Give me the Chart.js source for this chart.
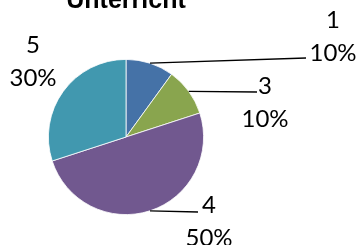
<!DOCTYPE html>
<html>
<head>
<meta charset="utf-8">
<script src="https://cdn.jsdelivr.net/npm/chart.js@4.4.0/dist/chart.umd.min.js"></script>
<style>
  html, body { margin: 0; padding: 0; background: #fff; }
  #wrap { width: 358px; height: 245px; }
</style>
</head>
<body>
<div id="wrap"><canvas id="pieChart" width="358" height="245"></canvas></div>
<script>
// Werte aus dem Bild
const categories = ["1", "3", "4", "5"];
const shares = [10, 10, 50, 30];
const sliceColors = ["#4572A7", "#89A54E", "#71588F", "#4198AF"];
const chartTitle = "Unterricht";

// Beschriftungen (relativ zum Kreismittelpunkt)
const labelSpots = [
  { tx: 207, ty: -117, ex: 180, ey: -79 },
  { tx: 139, ty: -51, ex: 131, ey: -45 },
  { tx: 83, ty: 68, ex: 72, ey: 75 },
  { tx: -93, ty: -92, ex: null, ey: null },
];

const labelPlugin = {
  id: "pieLabels",
  afterDatasetsDraw(chart) {
    const ctx = chart.ctx;
    const meta = chart.getDatasetMeta(0);
    const total = shares.reduce((a, b) => a + b, 0);
    ctx.save();

    // Titel (oben abgeschnitten)
    const c0 = meta.data[0];
    ctx.fillStyle = "#000";
    ctx.font = "bold 25px 'Liberation Sans', Arial, sans-serif";
    ctx.textAlign = "center";
    ctx.textBaseline = "alphabetic";
    ctx.fillText(chartTitle, c0.x, 8);

    meta.data.forEach((arc, i) => {
      const spot = labelSpots[i];
      const mid = (arc.startAngle + arc.endAngle) / 2;
      if (spot.ex !== null) {
        ctx.beginPath();
        ctx.strokeStyle = "#000";
        ctx.lineWidth = 1.3;
        ctx.moveTo(arc.x + Math.cos(mid) * arc.outerRadius, arc.y + Math.sin(mid) * arc.outerRadius);
        ctx.lineTo(arc.x + spot.ex, arc.y + spot.ey);
        ctx.stroke();
      }
      ctx.font = "24px Lato, 'Open Sans', sans-serif";
      ctx.textAlign = "center";
      ctx.textBaseline = "middle";
      const pct = Math.round((shares[i] / total) * 100) + "%";
      ctx.fillText(categories[i], arc.x + spot.tx, arc.y + spot.ty);
      ctx.fillText(pct, arc.x + spot.tx, arc.y + spot.ty + 33);
    });
    ctx.restore();
  },
};

new Chart(document.getElementById("pieChart"), {
  type: "pie",
  data: {
    labels: categories,
    datasets: [
      {
        data: shares,
        backgroundColor: sliceColors,
        borderColor: "#ffffff",
        borderWidth: 0.8,
      },
    ],
  },
  options: {
    responsive: false,
    animation: false,
    devicePixelRatio: 1,
    layout: { padding: { left: 48, right: 154, top: 59, bottom: 30 } },
    plugins: {
      legend: { display: false },
      tooltip: { enabled: false },
      title: { display: false },
    },
  },
  plugins: [labelPlugin],
});
</script>
</body>
</html>
